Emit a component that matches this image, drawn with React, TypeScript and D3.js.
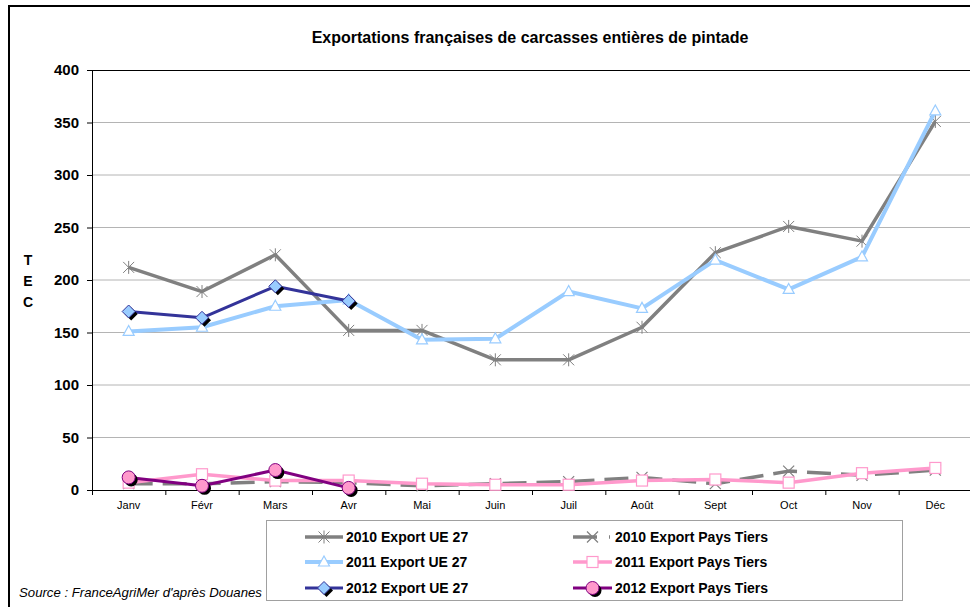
import React from 'react'
import * as d3 from 'd3'

const months = ['Janv', 'Févr', 'Mars', 'Avr', 'Mai', 'Juin', 'Juil', 'Août', 'Sept', 'Oct', 'Nov', 'Déc']
const yTicks = [0, 50, 100, 150, 200, 250, 300, 350, 400]

const ue2010 = [212, 189, 224, 152, 152, 124, 124, 155, 226, 251, 237, 351]
const tiers2010 = [6, 6, 8, 7, 4, 6, 8, 12, 6, 18, 14, 19]
const ue2011 = [151, 155, 175, 181, 143, 144, 189, 173, 219, 191, 222, 361]
const tiers2011 = [7, 15, 9, 9, 6, 5, 5, 9, 10, 7, 16, 21]
const ue2012 = [170, 164, 194, 180]
const tiers2012 = [12, 4, 19, 2]

const FONT = 'Arial, "Liberation Sans", sans-serif'

type Marker = 'star' | 'cross' | 'triangle' | 'square' | 'diamond' | 'circle'

const series = [
    { name: '2010 Export UE 27', values: ue2010, color: '#808080', width: 3.5, dash: undefined, marker: 'star' as Marker },
    { name: '2010 Export Pays Tiers', values: tiers2010, color: '#808080', width: 3.5, dash: '24,10', marker: 'cross' as Marker },
    { name: '2011 Export UE 27', values: ue2011, color: '#99CCFF', width: 4, dash: undefined, marker: 'triangle' as Marker },
    { name: '2011 Export Pays Tiers', values: tiers2011, color: '#FF99CC', width: 3.5, dash: undefined, marker: 'square' as Marker },
    { name: '2012 Export UE 27', values: ue2012, color: '#333399', width: 3, dash: undefined, marker: 'diamond' as Marker },
    { name: '2012 Export Pays Tiers', values: tiers2012, color: '#800080', width: 3, dash: undefined, marker: 'circle' as Marker },
]

const drawMarker = (m: Marker, x: number, y: number, key: string) => {
    switch (m) {
        case 'star': {
            const s = 5.5
            return <path key={key} d={`M${x - s},${y - s}L${x + s},${y + s}M${x - s},${y + s}L${x + s},${y - s}M${x},${y - s - 1}L${x},${y + s + 1}`} stroke="#808080" strokeWidth={1} fill="none" />
        }
        case 'cross': {
            const s = 5.5
            return <path key={key} d={`M${x - s},${y - s}L${x + s},${y + s}M${x - s},${y + s}L${x + s},${y - s}`} stroke="#808080" strokeWidth={1.2} fill="none" />
        }
        case 'triangle':
            return <path key={key} d={`M${x},${y - 6}L${x + 5.5},${y + 4}L${x - 5.5},${y + 4}Z`} fill="#fff" stroke="#99CCFF" strokeWidth={1.2} />
        case 'square':
            return <rect key={key} x={x - 5.5} y={y - 5.5} width={11} height={11} fill="#fff" stroke="#FF99CC" strokeWidth={1.2} />
        case 'diamond': {
            const d = (cx: number, cy: number) => `M${cx},${cy - 6.5}L${cx + 6.5},${cy}L${cx},${cy + 6.5}L${cx - 6.5},${cy}Z`
            return (
                <g key={key}>
                    <path d={d(x + 2.5, y + 2.5)} fill="#000" />
                    <path d={d(x, y)} fill="#99CCFF" stroke="#333399" strokeWidth={1} />
                </g>
            )
        }
        case 'circle':
            return (
                <g key={key}>
                    <circle cx={x + 2.5} cy={y + 2.5} r={6.5} fill="#000" />
                    <circle cx={x} cy={y} r={6.5} fill="#FF99CC" stroke="#800080" strokeWidth={1} />
                </g>
            )
    }
}

const App = () => {
    const width = 970
    const height = 607
    const left = 92
    const right = 972
    const top = 70
    const bottom = 490

    const xScale = d3.scaleBand<string>().domain(months).range([left, right])
    const xc = (i: number) => (xScale(months[i]) as number) + xScale.bandwidth() / 2
    const yScale = d3.scaleLinear().domain([0, 400]).range([bottom, top])
    const line = d3.line<number>()
        .x((_, i) => xc(i))
        .y(d => yScale(d))

    const legendRows = [
        [series[0], series[1]],
        [series[2], series[3]],
        [series[4], series[5]],
    ]
    const legendY = [537, 562, 588]
    const legendCols = [{ x1: 305, x2: 343, tx: 346 }, { x1: 573, x2: 612, tx: 615 }]

    return (
        <svg width={width} height={height} style={{ position: 'absolute', left: 0, top: 0, background: '#fff' }} fontFamily={FONT}>
            <rect x={0} y={0} width={width} height={height} fill="#fff" />
            <rect x={9} y={6} width={980} height={640} fill="none" stroke="#000" strokeWidth={2} />

            <text x={530} y={43} textAnchor="middle" fontSize={16} fontWeight="bold">
                Exportations françaises de carcasses entières de pintade
            </text>

            {/* grid */}
            {yTicks.filter(t => t > 0 && t < 400).map(t => (
                <line key={t} x1={left} x2={right} y1={yScale(t)} y2={yScale(t)} stroke="#B4B4B4" strokeWidth={1} />
            ))}
            <line x1={left} x2={right} y1={top + 0.5} y2={top + 0.5} stroke="#000" strokeWidth={1} />
            <line x1={left + 0.5} x2={left + 0.5} y1={top} y2={bottom + 5} stroke="#000" strokeWidth={1} />
            <line x1={left} x2={right} y1={bottom + 0.5} y2={bottom + 0.5} stroke="#000" strokeWidth={1} />

            {yTicks.map(t => (
                <g key={t}>
                    <line x1={left - 5} x2={left} y1={yScale(t) + 0.5} y2={yScale(t) + 0.5} stroke="#000" />
                    <text x={79} y={yScale(t) + 5} textAnchor="end" fontSize={15} fontWeight="bold">{t}</text>
                </g>
            ))}
            {months.map((m, i) => (
                <g key={m}>
                    <line x1={(xScale(m) as number) + 0.5} x2={(xScale(m) as number) + 0.5} y1={bottom} y2={bottom + 5} stroke="#000" />
                    <text x={xc(i)} y={509} textAnchor="middle" fontSize={11}>{m}</text>
                </g>
            ))}

            {['T', 'E', 'C'].map((c, i) => (
                <text key={c} x={28} y={265 + i * 21} textAnchor="middle" fontSize={14} fontWeight="bold">{c}</text>
            ))}

            {series.map(s => (
                <g key={s.name}>
                    <path d={line(s.values) as string} fill="none" stroke={s.color} strokeWidth={s.width} strokeDasharray={s.dash} strokeLinejoin="round" />
                    {s.values.map((v, i) => drawMarker(s.marker, xc(i), yScale(v), `${s.name}-${i}`))}
                </g>
            ))}

            {/* legend */}
            <rect x={266.5} y={520.5} width={636} height={80} fill="#fff" stroke="#A0A0A0" strokeWidth={1} />
            {legendRows.map((row, r) => row.map((s, c) => {
                const col = legendCols[c]
                const y = legendY[r]
                const mid = (col.x1 + col.x2) / 2
                return (
                    <g key={s.name}>
                        {s.dash ? (
                            <>
                                <line x1={col.x1} x2={col.x1 + 24} y1={y} y2={y} stroke={s.color} strokeWidth={s.width} />
                                <line x1={col.x2 - 3} x2={col.x2 - 2} y1={y} y2={y} stroke={s.color} strokeWidth={s.width} />
                            </>
                        ) : (
                            <line x1={col.x1} x2={col.x2} y1={y} y2={y} stroke={s.color} strokeWidth={s.width} />
                        )}
                        {drawMarker(s.marker, mid, y, `leg-${s.name}`)}
                        <text x={col.tx} y={y + 5} fontSize={14} fontWeight="bold">{s.name}</text>
                    </g>
                )
            }))}

            <text x={19} y={597} fontSize={13.2} fontStyle="italic">Source : FranceAgriMer d'après Douanes</text>
        </svg>
    )
}

export default App
